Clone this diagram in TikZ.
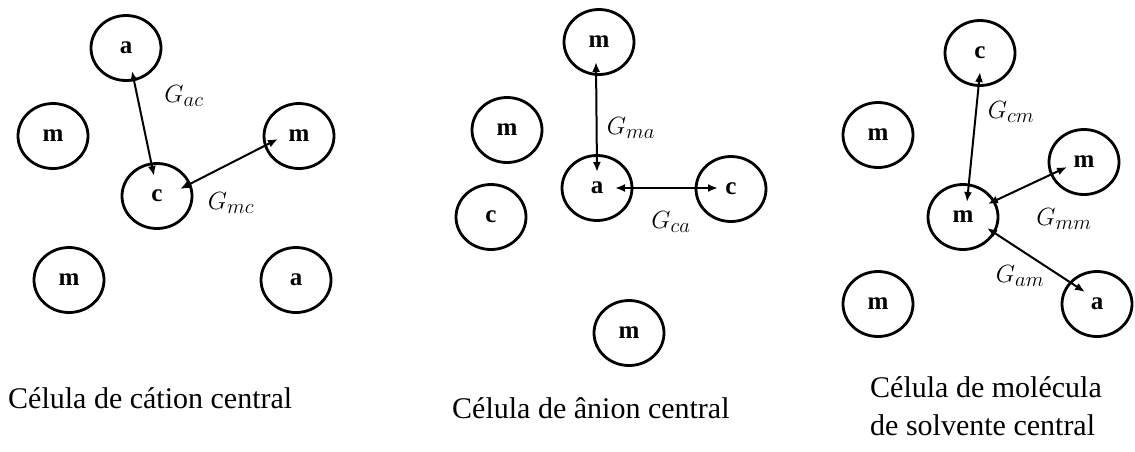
\documentclass[tikz,border=0pt]{standalone}
\usepackage{fontspec}
\setmainfont{Liberation Serif}
\usetikzlibrary{shapes.geometric,arrows.meta}

\tikzset{
  particle/.style={ellipse, draw, line width=2.8pt, minimum width=70pt,
    minimum height=65pt, inner sep=0pt,
    font=\fontsize{25}{25}\selectfont\bfseries},
  pair/.style={line width=2pt,
    {Latex[length=10pt,width=8pt]}-{Latex[length=10pt,width=8pt]}},
  glabel/.style={inner sep=0pt, font=\fontsize{30}{30}\selectfont},
  caption/.style={anchor=base west, inner sep=0pt, align=left,
    font=\fontsize{30}{38}\selectfont}
}

\begin{document}
\begin{tikzpicture}[x=1pt,y=-1pt]
\useasboundingbox (0,0) rectangle (1135,451);

% --- central cation cell ---
\node[particle] (a1)  at (126,48)  {a};
\node[particle] (m1l) at (53,136)  {m};
\node[particle] (m1r) at (299,136) {m};
\node[particle] (c1)  at (157,196) {c};
\node[particle] (m1b) at (69,280)  {m};
\node[particle] (a1b) at (296,280) {a};
\draw[pair] ([shift={(6,23)}]a1.center) -- ([shift={(-3,-20)}]c1.center);
\draw[pair] ([shift={(23,-7)}]c1.center) -- ([shift={(-21,3)}]m1r.center);
\node[glabel] (gac) at (184,96)  {$G_{ac}$};
\node[glabel] (gmc) at (231,203) {$G_{mc}$};
\node[caption] (cap1) at (8,408) {Célula de cátion central};

% --- central anion cell ---
\node[particle] (m2t) at (599,42)  {m};
\node[particle] (m2l) at (507,130) {m};
\node[particle] (a2)  at (597,188) {a};
\node[particle] (c2l) at (491,217) {c};
\node[particle] (c2r) at (731,189) {c};
\node[particle] (m2b) at (629,333) {m};
\draw[pair] ([shift={(-3,20)}]m2t.center) -- ([shift={(0,-16)}]a2.center);
\draw[pair] ([shift={(18,0)}]a2.center) -- ([shift={(-13,-1)}]c2r.center);
\node[glabel] (gma) at (631,128) {$G_{ma}$};
\node[glabel] (gca) at (671,222) {$G_{ca}$};
\node[caption] (cap2) at (452,418) {Célula de ânion central};

% --- central solvent molecule cell ---
\node[particle] (c3t)  at (980,53)   {c};
\node[particle] (m3l)  at (878,135)  {m};
\node[particle] (m3r)  at (1084,162) {m};
\node[particle] (m3)   at (963,217)  {m};
\node[particle] (m3bl) at (878,304)  {m};
\node[particle] (a3br) at (1097,304) {a};
\draw[pair] ([shift={(0,19)}]c3t.center) -- ([shift={(4,-15)}]m3.center);
\draw[pair] ([shift={(25,-13)}]m3.center) -- ([shift={(-17,5)}]m3r.center);
\draw[pair] ([shift={(24,11)}]m3.center) -- ([shift={(-12,-12)}]a3br.center);
\node[glabel] (gcm) at (1011,112) {$G_{cm}$};
\node[glabel] (gmm) at (1064,219) {$G_{mm}$};
\node[glabel] (gam) at (1020,276) {$G_{am}$};
% the base anchor of a two-line node sits on its last line
\node[caption] (cap3) at (870,435) {Célula de molécula\\de solvente central};
\end{tikzpicture}
\end{document}
